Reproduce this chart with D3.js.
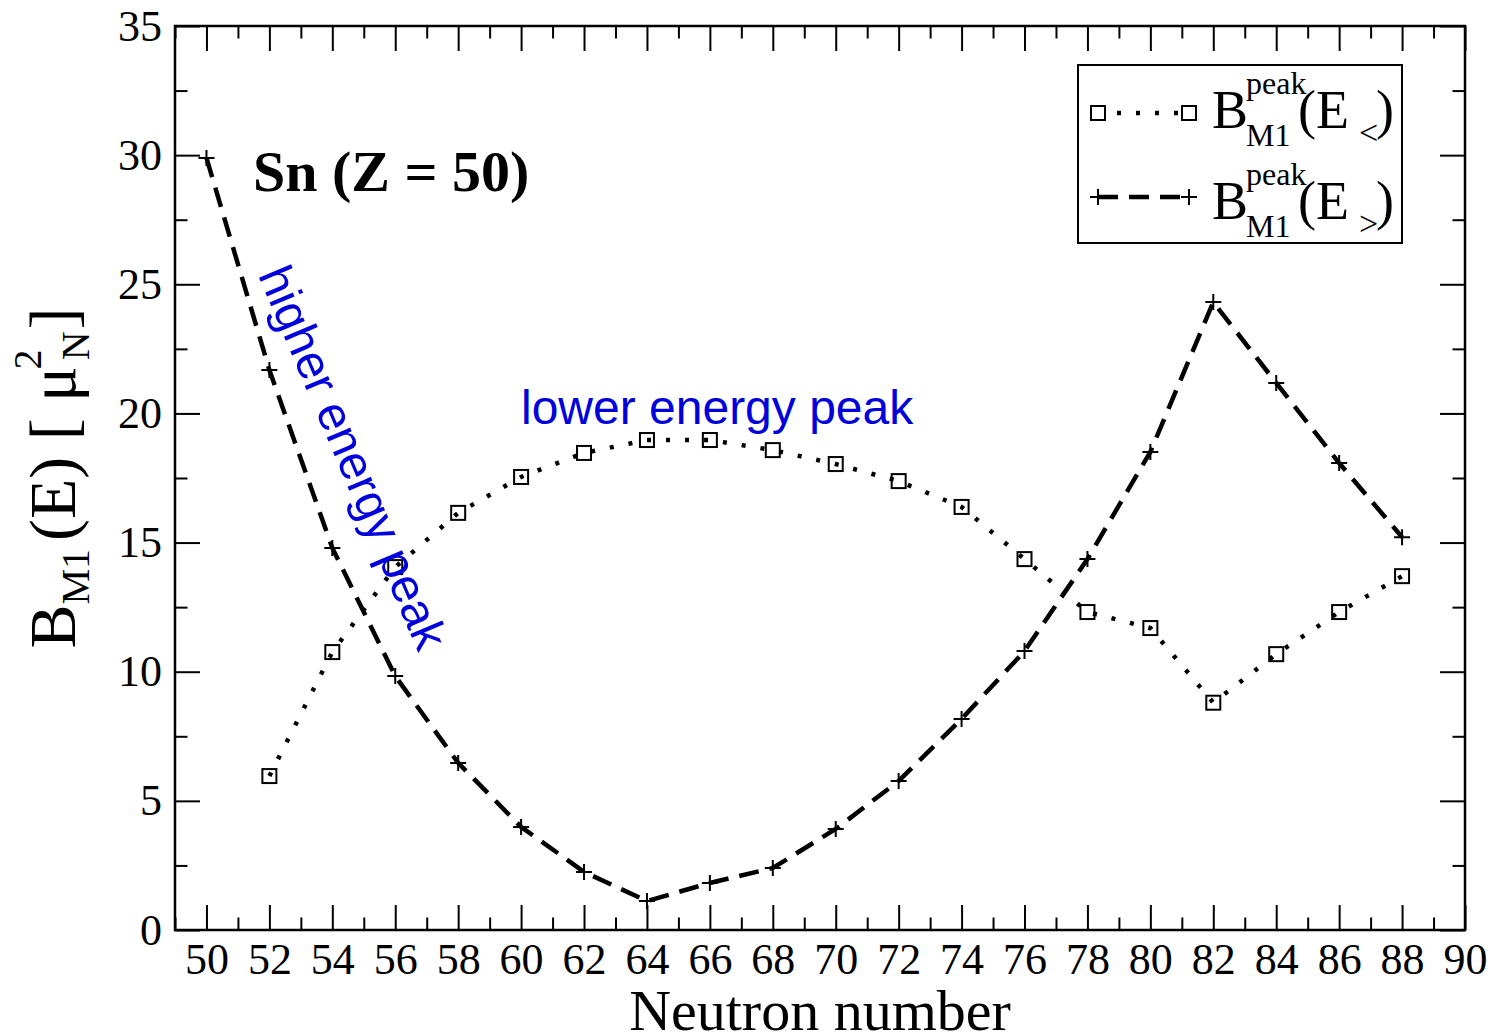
<!DOCTYPE html>
<html>
<head>
<meta charset="utf-8">
<script src="https://cdn.jsdelivr.net/npm/d3@7"></script>
<style>
  body { margin: 0; background: #fff; }
  svg text { font-family: "Liberation Serif", "Times New Roman", serif; }
</style>
</head>
<body>
<div id="chart"></div>
<script>
// neutron numbers (x) and the two peak strengths
const neutrons = [50, 52, 54, 56, 58, 60, 62, 64, 66, 68, 70, 72, 74, 76, 78, 80, 82, 84, 86, 88];
const lowerPeak = [null, 5.96, 10.76, 14.05, 16.15, 17.54, 18.47, 18.97, 18.97, 18.58, 18.04, 17.38, 16.38, 14.36, 12.31, 11.69, 8.80, 10.68, 12.31, 13.70];
const higherPeak = [29.89, 21.68, 14.79, 9.83, 6.47, 3.99, 2.25, 1.12, 1.82, 2.40, 3.91, 5.77, 8.17, 10.80, 14.36, 18.51, 24.31, 21.18, 18.08, 15.21];

const xMajor = d3.range(50, 91, 2);
const xMinor = d3.range(49, 90, 2);
const yMajor = d3.range(0, 36, 5);
const yMinor = d3.range(2.5, 35, 5);

const W = 1495, H = 1034;
const margin = { top: 26, right: 30, bottom: 104, left: 175 };
const width = W - margin.left - margin.right;
const height = H - margin.top - margin.bottom;

const svg = d3.select("#chart").append("svg")
  .attr("width", W).attr("height", H);

const g = svg.append("g").attr("transform", `translate(${margin.left},${margin.top})`);

const x = d3.scaleLinear().domain([49, 90]).range([0, width]);
const y = d3.scaleLinear().domain([0, 35]).range([height, 0]);

function styleAxis(sel) {
  sel.select(".domain").remove();
  sel.selectAll(".tick line").attr("stroke", "#000").attr("stroke-width", 2);
  sel.selectAll(".tick text").attr("fill", "#000").style("font-size", "44px")
    .style("font-family", "'Liberation Serif', 'Times New Roman', serif");
}
// tick-only axes: drop the empty labels
function ticksOnly(sel) {
  styleAxis(sel);
  sel.selectAll(".tick text").remove();
}

// bottom + left with labels
g.append("g").attr("transform", `translate(0,${height})`)
  .call(d3.axisBottom(x).tickValues(xMajor).tickSizeInner(-25).tickSizeOuter(0).tickPadding(13))
  .call(styleAxis);
g.append("g").attr("transform", `translate(0,${height})`)
  .call(d3.axisBottom(x).tickValues(xMinor).tickSizeInner(-12.5).tickSizeOuter(0))
  .call(ticksOnly);
g.append("g")
  .call(d3.axisLeft(y).tickValues(yMajor).tickSizeInner(-25).tickSizeOuter(0).tickPadding(13))
  .call(styleAxis);
g.append("g")
  .call(d3.axisLeft(y).tickValues(yMinor).tickSizeInner(-12.5).tickSizeOuter(0))
  .call(ticksOnly);
// mirrored top + right ticks
g.append("g").call(d3.axisTop(x).tickValues(xMajor).tickSizeInner(-25).tickSizeOuter(0)).call(ticksOnly);
g.append("g").call(d3.axisTop(x).tickValues(xMinor).tickSizeInner(-12.5).tickSizeOuter(0)).call(ticksOnly);
g.append("g").attr("transform", `translate(${width},0)`)
  .call(d3.axisRight(y).tickValues(yMajor).tickSizeInner(-25).tickSizeOuter(0)).call(ticksOnly);
g.append("g").attr("transform", `translate(${width},0)`)
  .call(d3.axisRight(y).tickValues(yMinor).tickSizeInner(-12.5).tickSizeOuter(0)).call(ticksOnly);

g.append("rect").attr("width", width).attr("height", height)
  .attr("fill", "none").attr("stroke", "#000").attr("stroke-width", 2.5);

// series
const lowPts = neutrons.map((n, i) => [n, lowerPeak[i]]).filter(d => d[1] != null);
const highPts = neutrons.map((n, i) => [n, higherPeak[i]]);

const line = d3.line().x(d => x(d[0])).y(d => y(d[1]));

g.append("path").datum(lowPts).attr("d", line)
  .attr("fill", "none").attr("stroke", "#000").attr("stroke-width", 4.5)
  .attr("stroke-dasharray", "4,15");
g.append("path").datum(highPts).attr("d", line)
  .attr("fill", "none").attr("stroke", "#000").attr("stroke-width", 4.5)
  .attr("stroke-dasharray", "20,11");

const sq = 14;
g.selectAll(".sq").data(lowPts).join("rect").attr("class", "sq")
  .attr("x", d => x(d[0]) - sq / 2).attr("y", d => y(d[1]) - sq / 2)
  .attr("width", sq).attr("height", sq)
  .attr("fill", "none").attr("stroke", "#000").attr("stroke-width", 2);

const pl = 8;
g.selectAll(".pl").data(highPts).join("path").attr("class", "pl")
  .attr("d", d => {
    const cx = x(d[0]), cy = y(d[1]);
    return `M${cx - pl},${cy}H${cx + pl}M${cx},${cy - pl}V${cy + pl}`;
  })
  .attr("stroke", "#000").attr("stroke-width", 2);

// annotations
g.append("text").attr("x", 253 - margin.left).attr("y", 191 - margin.top)
  .style("font-size", "58px").style("font-weight", "bold").text("Sn (Z = 50)");

g.append("text").attr("x", 521 - margin.left).attr("y", 424 - margin.top)
  .style("font-family", "'Liberation Sans', Arial, sans-serif").style("font-size", "48px")
  .attr("fill", "#0000dd").text("lower energy peak");

g.append("text")
  .attr("transform", `translate(${338 - margin.left},${464 - margin.top}) rotate(67)`)
  .attr("text-anchor", "middle")
  .style("font-family", "'Liberation Sans', Arial, sans-serif").style("font-size", "48px")
  .attr("fill", "#0000dd").text("higher energy peak");

// legend
const legend = svg.append("g").attr("transform", "translate(1078,65)");
legend.append("rect").attr("width", 324).attr("height", 178)
  .attr("fill", "#fff").attr("stroke", "#000").attr("stroke-width", 2);

const rows = [
  { y: 48, base: 63, kind: "sq", sign: "<", dash: "4,15" },
  { y: 132, base: 154, kind: "pl", sign: ">", dash: "20,11" }
];
rows.forEach(r => {
  legend.append("line").attr("x1", 20).attr("x2", 111).attr("y1", r.y).attr("y2", r.y)
    .attr("stroke", "#000").attr("stroke-width", 4.5).attr("stroke-dasharray", r.dash);
  [20, 111].forEach(cx => {
    if (r.kind === "sq") {
      legend.append("rect").attr("x", cx - sq / 2).attr("y", r.y - sq / 2)
        .attr("width", sq).attr("height", sq).attr("fill", "#fff")
        .attr("stroke", "#000").attr("stroke-width", 2);
    } else {
      legend.append("path").attr("d", `M${cx - pl},${r.y}H${cx + pl}M${cx},${r.y - pl}V${r.y + pl}`)
        .attr("stroke", "#000").attr("stroke-width", 2);
    }
  });
  legend.append("text").attr("x", 134).attr("y", r.base).style("font-size", "54px").text("B");
  legend.append("text").attr("x", 168).attr("y", r.base - 34).style("font-size", "32px").text("peak");
  legend.append("text").attr("x", 168).attr("y", r.base + 18).style("font-size", "32px").text("M1");
  legend.append("text").attr("x", 220).attr("y", r.base).style("font-size", "54px").text("(E");
  legend.append("text").attr("x", 281).attr("y", r.base + 16).style("font-size", "34px").text(r.sign);
  legend.append("text").attr("x", 298).attr("y", r.base).style("font-size", "54px").text(")");
});

// axis titles
svg.append("text").attr("x", margin.left + width / 2).attr("y", 1030)
  .attr("text-anchor", "middle").style("font-size", "58px").text("Neutron number");

const yt = svg.append("text")
  .attr("transform", `translate(75,${margin.top + height / 2}) rotate(-90)`)
  .attr("text-anchor", "middle").style("font-size", "66px");
yt.append("tspan").text("B");
yt.append("tspan").attr("dy", 14).style("font-size", "40px").text("M1");
yt.append("tspan").attr("dy", -14).attr("dx", 8).text("(E) [ \u03bc");
yt.append("tspan").attr("dy", 14).attr("dx", 6).style("font-size", "40px").text("N");
yt.append("tspan").attr("dy", -48).attr("dx", -38).style("font-size", "40px").text("2");
yt.append("tspan").attr("dy", 34).attr("dx", 20).text("]");
</script>
</body>
</html>
